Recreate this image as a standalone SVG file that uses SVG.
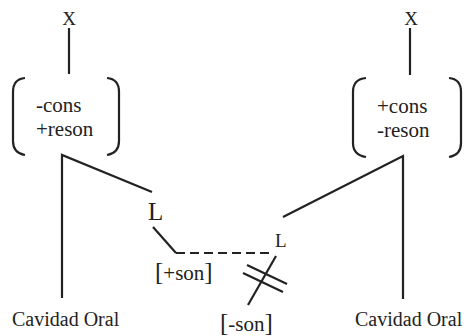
<svg xmlns="http://www.w3.org/2000/svg" width="467" height="336" viewBox="0 0 467 336" font-family="Liberation Serif, serif">
  <style>
    text { font-family: 'Liberation Serif', serif; fill: #222; }
    .feat { font-size: 21px; }
    .lbl { font-size: 20px; }
    .ln { fill: none; stroke: #222; stroke-width: 2.2; stroke-linecap: butt; }
    .dash { stroke-dasharray: 9 5; }
  </style>
  <rect width="467" height="336" fill="#fff"/>

  <!-- left segment: X over [-cons +reson] -->
  <g id="left-segment">
    <text x="69" y="25" font-size="19" text-anchor="middle">X</text>
    <path class="ln" d="M25 78 Q13 79 13 92 L13 141 Q13 153 25 155"/>
    <path class="ln" d="M107 78 Q119 79 119 92 L119 141 Q119 153 107 155"/>
    <text class="feat" x="36" y="112">-cons</text>
    <text class="feat" x="36" y="136">+reson</text>
  </g>

  <!-- right segment: X over [+cons -reson] -->
  <g id="right-segment">
    <text x="411" y="25" font-size="19" text-anchor="middle">X</text>
    <path class="ln" d="M366 78 Q353 79 353 92 L353 143 Q353 155 366 157"/>
    <path class="ln" d="M449 78 Q461 79 461 92 L461 143 Q461 155 449 157"/>
    <text class="feat" x="377" y="113">+cons</text>
    <text class="feat" x="377" y="137">-reson</text>
  </g>

  <!-- laryngeal nodes -->
  <g id="node-L-left">
    <text x="148" y="220" font-size="25">L</text>
  </g>
  <g id="node-L-right">
    <text x="275" y="247" font-size="19">L</text>
  </g>

  <!-- voicing values -->
  <g id="son-plus">
    <text class="feat" x="155" y="280"><tspan font-size="25">[</tspan>+son<tspan font-size="25">]</tspan></text>
  </g>
  <g id="son-minus">
    <text class="feat" x="220" y="331"><tspan font-size="25">[</tspan>-son<tspan font-size="25">]</tspan></text>
  </g>

  <!-- oral cavity nodes -->
  <g id="oral-left">
    <text class="lbl" x="12" y="326">Cavidad Oral</text>
  </g>
  <g id="oral-right">
    <text class="lbl" x="355" y="326">Cavidad Oral</text>
  </g>

  <!-- association lines -->
  <g id="connectors">
    <line class="ln" x1="69" y1="28" x2="69" y2="74"/>
    <line class="ln" x1="410" y1="28" x2="410" y2="75"/>
    <polyline class="ln" points="152,192 62,155 62,298"/>
    <polyline class="ln" points="283,217 403,156 403,299"/>
    <polyline class="ln" points="153,227 176,253"/>
    <line class="ln dash" x1="176" y1="253" x2="270" y2="253"/>
    <line class="ln" x1="276" y1="256" x2="248" y2="305"/>
    <!-- delinking marks -->
    <line class="ln" x1="247" y1="265" x2="287" y2="284"/>
    <line class="ln" x1="243" y1="273" x2="283" y2="292"/>
  </g>
</svg>
